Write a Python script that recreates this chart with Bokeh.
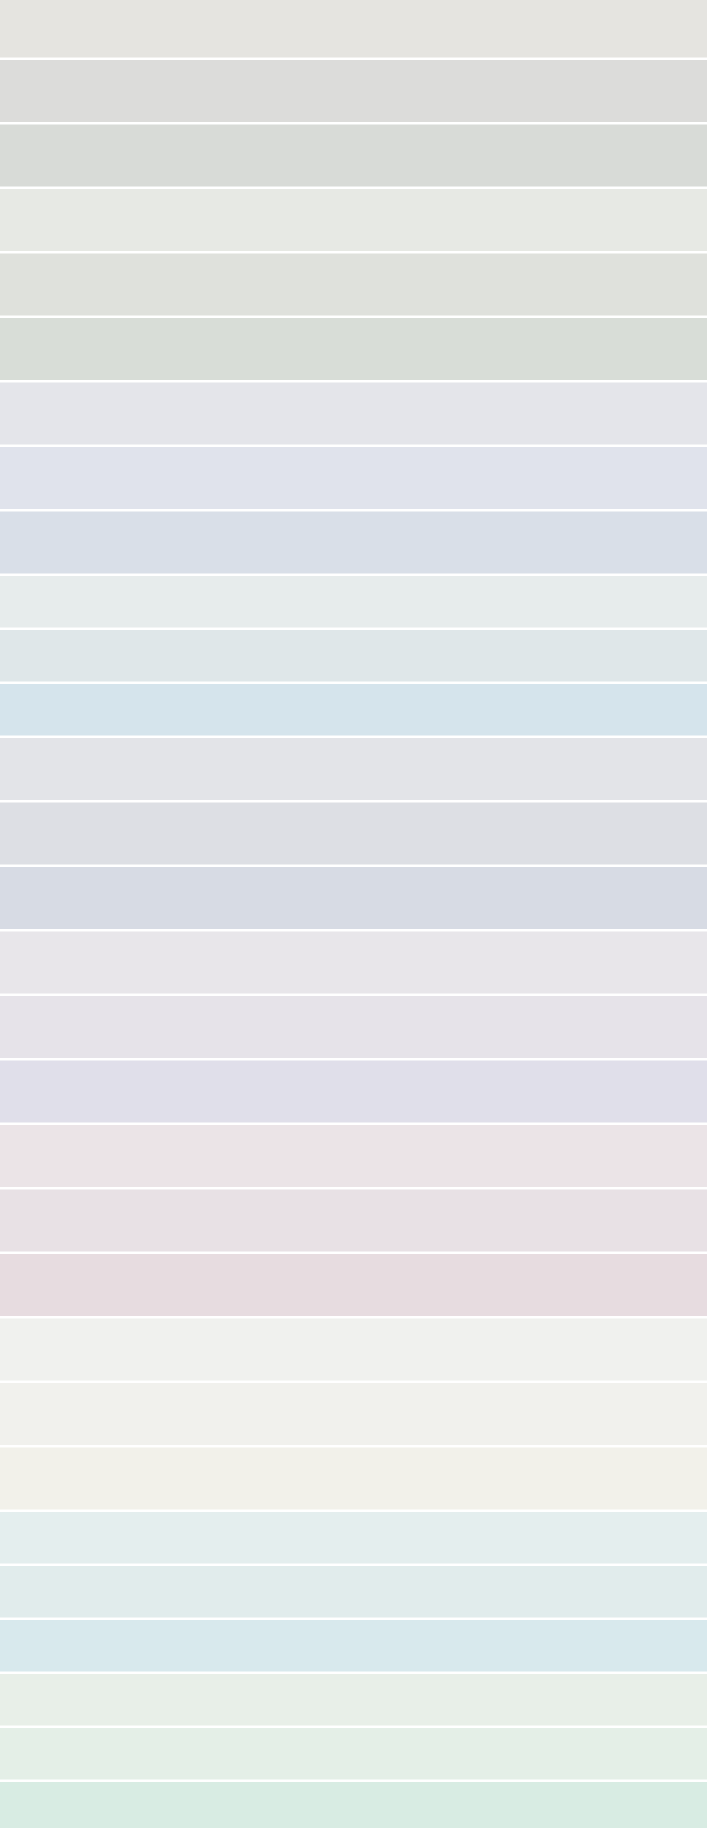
from bokeh.plotting import figure
from bokeh.models import Range1d, ColumnDataSource
from bokeh.embed import file_html
from bokeh.resources import INLINE

# Ten swatch groups, three shades each (light, medium, dark)
groups = ["G1", "G2", "G3", "G4", "G5", "G6", "G7", "G8", "G9", "G10"]
group_weight = [1.0, 1.0, 1.0, 0.837, 1.0, 1.0, 1.0, 1.0, 0.837, 0.837]
shades = ["light", "medium", "dark"]
colors = [
    "#e5e4e0", "#dcdcda", "#d8dbd7",
    "#e7e9e4", "#dfe1dc", "#d8ddd7",
    "#e4e5ea", "#e0e3ec", "#d9dfe8",
    "#e7ecec", "#dfe7e9", "#d5e4ec",
    "#e3e4e8", "#dddfe4", "#d7dbe4",
    "#e8e6ea", "#e6e3e9", "#e0dfea",
    "#ebe4e7", "#e8e1e5", "#e7dce0",
    "#f0f1ee", "#f1f1ed", "#f2f1ea",
    "#e4eeee", "#e1ecec", "#d8e9ed",
    "#e8efe8", "#e4efe7", "#d8ece3",
]

UNIT = 64.5
GAP = 2.5
W, H = 709, 1833

tops, bottoms, names, fills = [], [], [], []
y = 0.0
i = 0
for g, w in zip(groups, group_weight):
    for s in shades:
        pitch = UNIT * w
        tops.append(y)
        bottoms.append(y + pitch - GAP)
        names.append(f"{g}-{s}")
        fills.append(colors[i])
        y += pitch
        i += 1

src = ColumnDataSource(dict(top=tops, bottom=bottoms, left=[0] * len(tops),
                            right=[1] * len(tops), color=fills, name=names))

p = figure(width=W, height=H, x_range=Range1d(0, 1), y_range=Range1d(H, 0),
           output_backend="svg", toolbar_location=None,
           x_axis_location=None, y_axis_location=None, min_border=0)
p.grid.visible = False
p.outline_line_color = None
p.background_fill_color = "white"
p.border_fill_color = "white"
p.quad(left="left", right="right", top="top", bottom="bottom", source=src,
       fill_color="color", line_color=None)
p.styles = {"margin-top": "-5px", "margin-left": "-2px"}

open("out.html", "w").write(file_html(p, INLINE))
